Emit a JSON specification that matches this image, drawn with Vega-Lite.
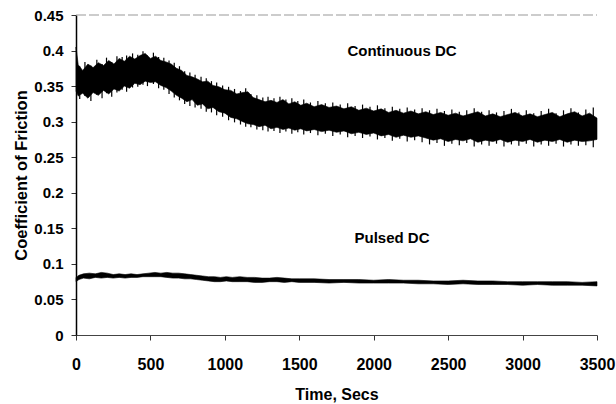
{
  "$schema": "https://vega.github.io/schema/vega-lite/v6.json",
  "width": 521,
  "height": 320,
  "autosize": "none",
  "padding": {"left": 76, "top": 15, "right": 19, "bottom": 69},
  "background": "white",
  "config": {
    "view": {"stroke": null},
    "font": "Liberation Sans",
    "axis": {"grid": false, "labelFont": "Liberation Sans", "titleFont": "Liberation Sans", "labelFontWeight": "bold", "titleFontWeight": "bold", "labelColor": "black", "titleColor": "black", "tickColor": "#333", "domainColor": "#222"}
  },
  "datasets": {
    "cof": [
      {"s":"Continuous DC","t":0,"y":0.343,"hi":0.405},{"s":"Continuous DC","t":15,"y":0.336,"hi":0.380},{"s":"Continuous DC","t":45,"y":0.340,"hi":0.372},{"s":"Continuous DC","t":80,"y":0.333,"hi":0.381},{"s":"Continuous DC","t":115,"y":0.341,"hi":0.376},{"s":"Continuous DC","t":150,"y":0.337,"hi":0.383},{"s":"Continuous DC","t":185,"y":0.344,"hi":0.379},{"s":"Continuous DC","t":220,"y":0.339,"hi":0.386},{"s":"Continuous DC","t":255,"y":0.346,"hi":0.381},{"s":"Continuous DC","t":290,"y":0.343,"hi":0.389},{"s":"Continuous DC","t":325,"y":0.350,"hi":0.385},{"s":"Continuous DC","t":360,"y":0.347,"hi":0.392},{"s":"Continuous DC","t":395,"y":0.354,"hi":0.388},{"s":"Continuous DC","t":430,"y":0.352,"hi":0.393},{"s":"Continuous DC","t":465,"y":0.357,"hi":0.396},{"s":"Continuous DC","t":500,"y":0.355,"hi":0.389},{"s":"Continuous DC","t":535,"y":0.356,"hi":0.392},{"s":"Continuous DC","t":570,"y":0.351,"hi":0.386},{"s":"Continuous DC","t":605,"y":0.348,"hi":0.384},{"s":"Continuous DC","t":640,"y":0.343,"hi":0.381},{"s":"Continuous DC","t":675,"y":0.337,"hi":0.375},{"s":"Continuous DC","t":710,"y":0.333,"hi":0.372},{"s":"Continuous DC","t":745,"y":0.328,"hi":0.365},{"s":"Continuous DC","t":780,"y":0.331,"hi":0.363},{"s":"Continuous DC","t":815,"y":0.323,"hi":0.360},{"s":"Continuous DC","t":850,"y":0.325,"hi":0.356},{"s":"Continuous DC","t":885,"y":0.318,"hi":0.357},{"s":"Continuous DC","t":920,"y":0.320,"hi":0.351},{"s":"Continuous DC","t":960,"y":0.314,"hi":0.349},{"s":"Continuous DC","t":1000,"y":0.312,"hi":0.345},{"s":"Continuous DC","t":1040,"y":0.306,"hi":0.344},{"s":"Continuous DC","t":1080,"y":0.304,"hi":0.339},{"s":"Continuous DC","t":1120,"y":0.300,"hi":0.341},{"s":"Continuous DC","t":1155,"y":0.297,"hi":0.342},{"s":"Continuous DC","t":1190,"y":0.296,"hi":0.334},{"s":"Continuous DC","t":1230,"y":0.293,"hi":0.331},{"s":"Continuous DC","t":1270,"y":0.295,"hi":0.328},{"s":"Continuous DC","t":1310,"y":0.290,"hi":0.330},{"s":"Continuous DC","t":1350,"y":0.292,"hi":0.327},{"s":"Continuous DC","t":1390,"y":0.289,"hi":0.331},{"s":"Continuous DC","t":1430,"y":0.291,"hi":0.325},{"s":"Continuous DC","t":1470,"y":0.288,"hi":0.328},{"s":"Continuous DC","t":1510,"y":0.290,"hi":0.323},{"s":"Continuous DC","t":1550,"y":0.287,"hi":0.326},{"s":"Continuous DC","t":1600,"y":0.289,"hi":0.321},{"s":"Continuous DC","t":1650,"y":0.286,"hi":0.324},{"s":"Continuous DC","t":1700,"y":0.288,"hi":0.320},{"s":"Continuous DC","t":1750,"y":0.285,"hi":0.322},{"s":"Continuous DC","t":1800,"y":0.287,"hi":0.318},{"s":"Continuous DC","t":1850,"y":0.283,"hi":0.321},{"s":"Continuous DC","t":1900,"y":0.285,"hi":0.316},{"s":"Continuous DC","t":1950,"y":0.282,"hi":0.319},{"s":"Continuous DC","t":2000,"y":0.284,"hi":0.315},{"s":"Continuous DC","t":2050,"y":0.280,"hi":0.318},{"s":"Continuous DC","t":2100,"y":0.282,"hi":0.313},{"s":"Continuous DC","t":2150,"y":0.278,"hi":0.316},{"s":"Continuous DC","t":2200,"y":0.281,"hi":0.312},{"s":"Continuous DC","t":2250,"y":0.278,"hi":0.315},{"s":"Continuous DC","t":2300,"y":0.280,"hi":0.311},{"s":"Continuous DC","t":2350,"y":0.277,"hi":0.314},{"s":"Continuous DC","t":2400,"y":0.274,"hi":0.310},{"s":"Continuous DC","t":2450,"y":0.276,"hi":0.313},{"s":"Continuous DC","t":2500,"y":0.272,"hi":0.309},{"s":"Continuous DC","t":2550,"y":0.275,"hi":0.312},{"s":"Continuous DC","t":2600,"y":0.273,"hi":0.308},{"s":"Continuous DC","t":2650,"y":0.276,"hi":0.311},{"s":"Continuous DC","t":2700,"y":0.271,"hi":0.314},{"s":"Continuous DC","t":2750,"y":0.274,"hi":0.308},{"s":"Continuous DC","t":2800,"y":0.272,"hi":0.311},{"s":"Continuous DC","t":2850,"y":0.275,"hi":0.307},{"s":"Continuous DC","t":2900,"y":0.271,"hi":0.310},{"s":"Continuous DC","t":2950,"y":0.274,"hi":0.313},{"s":"Continuous DC","t":3000,"y":0.272,"hi":0.308},{"s":"Continuous DC","t":3050,"y":0.275,"hi":0.311},{"s":"Continuous DC","t":3100,"y":0.271,"hi":0.307},{"s":"Continuous DC","t":3150,"y":0.274,"hi":0.310},{"s":"Continuous DC","t":3200,"y":0.272,"hi":0.313},{"s":"Continuous DC","t":3250,"y":0.275,"hi":0.307},{"s":"Continuous DC","t":3300,"y":0.271,"hi":0.311},{"s":"Continuous DC","t":3350,"y":0.274,"hi":0.314},{"s":"Continuous DC","t":3400,"y":0.272,"hi":0.308},{"s":"Continuous DC","t":3450,"y":0.273,"hi":0.312},{"s":"Continuous DC","t":3500,"y":0.275,"hi":0.305},
      {"s":"Pulsed DC","t":0,"y":0.075,"hi":0.081},{"s":"Pulsed DC","t":20,"y":0.078,"hi":0.084},{"s":"Pulsed DC","t":50,"y":0.080,"hi":0.086},{"s":"Pulsed DC","t":90,"y":0.079,"hi":0.087},{"s":"Pulsed DC","t":130,"y":0.081,"hi":0.086},{"s":"Pulsed DC","t":170,"y":0.080,"hi":0.088},{"s":"Pulsed DC","t":210,"y":0.081,"hi":0.087},{"s":"Pulsed DC","t":250,"y":0.080,"hi":0.085},{"s":"Pulsed DC","t":290,"y":0.081,"hi":0.086},{"s":"Pulsed DC","t":330,"y":0.080,"hi":0.085},{"s":"Pulsed DC","t":370,"y":0.081,"hi":0.086},{"s":"Pulsed DC","t":410,"y":0.081,"hi":0.085},{"s":"Pulsed DC","t":450,"y":0.082,"hi":0.086},{"s":"Pulsed DC","t":490,"y":0.082,"hi":0.087},{"s":"Pulsed DC","t":530,"y":0.082,"hi":0.088},{"s":"Pulsed DC","t":570,"y":0.082,"hi":0.087},{"s":"Pulsed DC","t":610,"y":0.081,"hi":0.088},{"s":"Pulsed DC","t":650,"y":0.080,"hi":0.087},{"s":"Pulsed DC","t":690,"y":0.080,"hi":0.087},{"s":"Pulsed DC","t":730,"y":0.079,"hi":0.086},{"s":"Pulsed DC","t":770,"y":0.079,"hi":0.085},{"s":"Pulsed DC","t":810,"y":0.078,"hi":0.084},{"s":"Pulsed DC","t":850,"y":0.077,"hi":0.083},{"s":"Pulsed DC","t":890,"y":0.076,"hi":0.082},{"s":"Pulsed DC","t":930,"y":0.075,"hi":0.082},{"s":"Pulsed DC","t":970,"y":0.075,"hi":0.081},{"s":"Pulsed DC","t":1010,"y":0.076,"hi":0.082},{"s":"Pulsed DC","t":1050,"y":0.075,"hi":0.081},{"s":"Pulsed DC","t":1100,"y":0.075,"hi":0.082},{"s":"Pulsed DC","t":1150,"y":0.075,"hi":0.081},{"s":"Pulsed DC","t":1200,"y":0.074,"hi":0.081},{"s":"Pulsed DC","t":1250,"y":0.074,"hi":0.080},{"s":"Pulsed DC","t":1300,"y":0.075,"hi":0.080},{"s":"Pulsed DC","t":1350,"y":0.075,"hi":0.081},{"s":"Pulsed DC","t":1400,"y":0.074,"hi":0.080},{"s":"Pulsed DC","t":1450,"y":0.075,"hi":0.079},{"s":"Pulsed DC","t":1500,"y":0.074,"hi":0.079},{"s":"Pulsed DC","t":1600,"y":0.074,"hi":0.079},{"s":"Pulsed DC","t":1700,"y":0.073,"hi":0.078},{"s":"Pulsed DC","t":1800,"y":0.074,"hi":0.078},{"s":"Pulsed DC","t":1900,"y":0.073,"hi":0.078},{"s":"Pulsed DC","t":2000,"y":0.073,"hi":0.077},{"s":"Pulsed DC","t":2100,"y":0.073,"hi":0.078},{"s":"Pulsed DC","t":2200,"y":0.073,"hi":0.077},{"s":"Pulsed DC","t":2300,"y":0.072,"hi":0.077},{"s":"Pulsed DC","t":2400,"y":0.072,"hi":0.076},{"s":"Pulsed DC","t":2500,"y":0.071,"hi":0.076},{"s":"Pulsed DC","t":2600,"y":0.072,"hi":0.077},{"s":"Pulsed DC","t":2700,"y":0.071,"hi":0.076},{"s":"Pulsed DC","t":2800,"y":0.071,"hi":0.076},{"s":"Pulsed DC","t":2900,"y":0.071,"hi":0.075},{"s":"Pulsed DC","t":3000,"y":0.070,"hi":0.075},{"s":"Pulsed DC","t":3100,"y":0.071,"hi":0.075},{"s":"Pulsed DC","t":3200,"y":0.070,"hi":0.075},{"s":"Pulsed DC","t":3300,"y":0.070,"hi":0.075},{"s":"Pulsed DC","t":3400,"y":0.070,"hi":0.074},{"s":"Pulsed DC","t":3500,"y":0.069,"hi":0.075}
    ],
    "spikes": [
      {"t":25,"y":0.332,"hi":0.378},{"t":60,"y":0.336,"hi":0.384},{"t":100,"y":0.329,"hi":0.379},{"t":140,"y":0.338,"hi":0.387},{"t":175,"y":0.333,"hi":0.381},{"t":205,"y":0.340,"hi":0.390},{"t":240,"y":0.335,"hi":0.384},{"t":275,"y":0.341,"hi":0.392},{"t":310,"y":0.345,"hi":0.391},{"t":340,"y":0.342,"hi":0.393},{"t":380,"y":0.348,"hi":0.396},{"t":415,"y":0.349,"hi":0.394},{"t":450,"y":0.352,"hi":0.399},{"t":480,"y":0.350,"hi":0.393},{"t":520,"y":0.353,"hi":0.397},{"t":555,"y":0.347,"hi":0.391},{"t":590,"y":0.345,"hi":0.390},{"t":625,"y":0.339,"hi":0.386},{"t":660,"y":0.334,"hi":0.383},{"t":695,"y":0.330,"hi":0.378},{"t":730,"y":0.325,"hi":0.371},{"t":765,"y":0.322,"hi":0.369},{"t":800,"y":0.320,"hi":0.366},{"t":840,"y":0.318,"hi":0.363},{"t":875,"y":0.314,"hi":0.361},{"t":910,"y":0.313,"hi":0.357},{"t":945,"y":0.309,"hi":0.355},{"t":985,"y":0.307,"hi":0.351},{"t":1025,"y":0.302,"hi":0.349},{"t":1065,"y":0.299,"hi":0.346},{"t":1105,"y":0.296,"hi":0.343},{"t":1140,"y":0.293,"hi":0.347},{"t":1175,"y":0.292,"hi":0.339},{"t":1215,"y":0.289,"hi":0.337},{"t":1255,"y":0.288,"hi":0.334},{"t":1290,"y":0.286,"hi":0.335},{"t":1330,"y":0.287,"hi":0.333},{"t":1370,"y":0.284,"hi":0.335},{"t":1410,"y":0.286,"hi":0.331},{"t":1450,"y":0.283,"hi":0.333},{"t":1490,"y":0.285,"hi":0.329},{"t":1530,"y":0.282,"hi":0.331},{"t":1575,"y":0.284,"hi":0.327},{"t":1625,"y":0.281,"hi":0.329},{"t":1675,"y":0.283,"hi":0.326},{"t":1725,"y":0.280,"hi":0.327},{"t":1775,"y":0.282,"hi":0.324},{"t":1825,"y":0.278,"hi":0.326},{"t":1875,"y":0.280,"hi":0.322},{"t":1925,"y":0.277,"hi":0.324},{"t":1975,"y":0.279,"hi":0.321},{"t":2025,"y":0.275,"hi":0.323},{"t":2075,"y":0.277,"hi":0.319},{"t":2125,"y":0.273,"hi":0.321},{"t":2175,"y":0.276,"hi":0.318},{"t":2225,"y":0.272,"hi":0.320},{"t":2275,"y":0.274,"hi":0.317},{"t":2325,"y":0.271,"hi":0.319},{"t":2375,"y":0.268,"hi":0.316},{"t":2425,"y":0.270,"hi":0.318},{"t":2475,"y":0.266,"hi":0.315},{"t":2525,"y":0.269,"hi":0.317},{"t":2575,"y":0.267,"hi":0.314},{"t":2625,"y":0.270,"hi":0.316},{"t":2675,"y":0.265,"hi":0.319},{"t":2725,"y":0.268,"hi":0.314},{"t":2775,"y":0.266,"hi":0.316},{"t":2825,"y":0.269,"hi":0.313},{"t":2875,"y":0.265,"hi":0.315},{"t":2925,"y":0.268,"hi":0.318},{"t":2975,"y":0.266,"hi":0.313},{"t":3025,"y":0.269,"hi":0.316},{"t":3075,"y":0.265,"hi":0.312},{"t":3125,"y":0.268,"hi":0.315},{"t":3175,"y":0.266,"hi":0.318},{"t":3225,"y":0.269,"hi":0.312},{"t":3275,"y":0.265,"hi":0.316},{"t":3325,"y":0.268,"hi":0.319},{"t":3375,"y":0.266,"hi":0.313},{"t":3425,"y":0.267,"hi":0.317},{"t":3475,"y":0.264,"hi":0.320}
    ],
    "labels": [
      {"t": 2190, "y": 0.400, "label": "Continuous DC"},
      {"t": 2123, "y": 0.136, "label": "Pulsed DC"}
    ],
    "top": [{"y": 0.45}]
  },
  "encoding": {
    "x": {"field": "t", "type": "quantitative", "scale": {"domain": [0, 3500], "nice": false},
      "axis": {"title": "Time, Secs", "values": [0,500,1000,1500,2000,2500,3000,3500], "tickCount": 20, "format": "d", "labelFontSize": 16, "titleFontSize": 16, "tickSize": 5, "labelPadding": 16, "labelFlush": false, "labelOverlap": false, "domainColor": "#444", "titleX": 260.5, "titleY": 64, "titleAlign": "center", "titleBaseline": "alphabetic"}},
    "y": {"field": "y", "type": "quantitative", "scale": {"domain": [0, 0.45], "nice": false},
      "axis": {"title": "Coefficient of Friction", "values": [0,0.05,0.1,0.15,0.2,0.25,0.3,0.35,0.4,0.45], "tickCount": 20, "format": "~g", "labelFontSize": 15, "labelOverlap": false, "titleFontSize": 16.5, "tickSize": 5, "labelPadding": 8, "domainColor": "black", "domainWidth": 1.5, "titleX": -55, "titleY": 160, "titleAlign": "center", "titleBaseline": "middle"}}
  },
  "layer": [
    {
      "data": {"name": "cof"},
      "mark": {"type": "area", "color": "black", "stroke": "black", "strokeWidth": 0.6},
      "encoding": {
        "y2": {"field": "hi"},
        "detail": {"field": "s"}
      }
    },
    {
      "data": {"name": "spikes"},
      "mark": {"type": "rule", "color": "black", "strokeWidth": 1.2},
      "encoding": {
        "y2": {"field": "hi"}
      }
    },
    {
      "data": {"name": "top"},
      "mark": {"type": "rule", "color": "#999999", "strokeDash": [10, 3], "strokeWidth": 1},
      "encoding": {"x": {"value": 0}, "x2": {"value": 521}}
    },
    {
      "data": {"name": "labels"},
      "mark": {"type": "text", "font": "Liberation Sans", "fontWeight": "bold", "fontSize": 15, "align": "center", "baseline": "middle", "color": "black"},
      "encoding": {
        "text": {"field": "label"}
      }
    }
  ]
}
